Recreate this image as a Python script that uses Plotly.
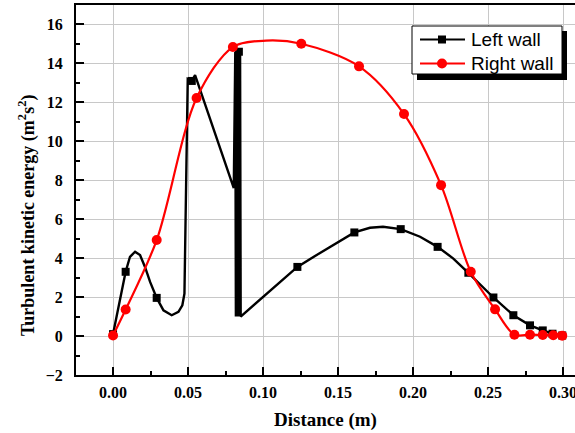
import plotly.graph_objects as go

# ---------------- data ----------------
# Left wall: curve points and which of them carry a marker
left_x = [0.0, 0.0084, 0.0113, 0.0147, 0.018, 0.0213, 0.0247, 0.0291, 0.0336, 0.0391,
          0.0436, 0.0462, 0.0476, 0.0498, 0.0525, 0.0547, 0.0805,
          0.0815, 0.0819, 0.0823, 0.0827, 0.0831, 0.0835, 0.0839, 0.0843, 0.0847, 0.0851,
          0.1229, 0.138, 0.1609, 0.1713, 0.180, 0.1918, 0.2047, 0.2164, 0.2269, 0.2369,
          0.2453, 0.2536, 0.2669, 0.278, 0.2865, 0.293, 0.2995]
left_y = [0.1, 3.3, 4.07, 4.33, 4.16, 3.55, 2.78, 1.96, 1.32, 1.07,
          1.24, 1.58, 2.18, 13.2, 13.1, 13.4, 7.6,
          14.6, 1.0, 14.6, 1.0, 14.6, 1.0, 14.6, 1.0, 14.6, 1.0,
          3.55, 4.27, 5.32, 5.56, 5.61, 5.49, 5.1, 4.58, 3.98, 3.25,
          2.6, 1.98, 1.07, 0.55, 0.29, 0.12, 0.03]
left_marked = [0, 1, 7, 14, 23, 27, 29, 32, 34, 36, 38, 39, 40, 41, 42, 43]

# Right wall: curve points and which carry a marker
right_x = [0.0, 0.0084, 0.0291, 0.0557, 0.0799, 0.102, 0.1255, 0.164, 0.194, 0.2187,
           0.2385, 0.2547, 0.2676, 0.278, 0.2865, 0.2935, 0.2995]
right_y = [0.03, 1.36, 4.93, 12.22, 14.84, 15.17, 15.01, 13.85, 11.4, 7.75,
           3.3, 1.37, 0.07, 0.07, 0.05, 0.04, 0.02]
right_marked = [0, 1, 2, 3, 4, 6, 7, 8, 9, 10, 11, 12, 13, 14, 15, 16]

series_names = ["Left wall", "Right wall"]
series_colors = ["black", "red"]
x_ticks = [0.00, 0.05, 0.10, 0.15, 0.20, 0.25, 0.30]
y_ticks = [-2, 0, 2, 4, 6, 8, 10, 12, 14, 16]

# ---------------- figure ----------------
W, H = 575, 433
ML, MR, MT, MB = 76, 0, 5, 58

serif = "Liberation Serif, Times New Roman, serif"
sans = "Liberation Sans, Arial, sans-serif"

fig = go.Figure()

fig.add_trace(go.Scatter(x=left_x, y=left_y, mode="lines", name=series_names[0],
                         line=dict(color=series_colors[0], width=2.4), showlegend=False))
fig.add_trace(go.Scatter(x=[left_x[i] for i in left_marked],
                         y=[left_y[i] for i in left_marked], mode="markers",
                         name=series_names[0],
                         marker=dict(symbol="square", size=8, color=series_colors[0]),
                         showlegend=False))
fig.add_trace(go.Scatter(x=right_x, y=right_y, mode="lines", name=series_names[1],
                         line=dict(color=series_colors[1], width=2.2, shape="spline",
                                   smoothing=0.9),
                         showlegend=False))
fig.add_trace(go.Scatter(x=[right_x[i] for i in right_marked],
                         y=[right_y[i] for i in right_marked], mode="markers",
                         name=series_names[1],
                         marker=dict(symbol="circle", size=10, color=series_colors[1]),
                         showlegend=False))

pw = W - ML - MR
ph = H - MT - MB


def px_x(p):
    return (p - ML) / pw


def px_y(p):
    return 1 - (p - MT) / ph


# ---- hand-drawn legend with drop shadow (as in the original) ----
fig.add_shape(type="rect", xref="paper", yref="paper",
              x0=px_x(417), x1=px_x(567), y0=px_y(80), y1=px_y(31),
              fillcolor="black", line=dict(width=0), layer="above")
fig.add_shape(type="rect", xref="paper", yref="paper",
              x0=px_x(412), x1=px_x(562), y0=px_y(74), y1=px_y(26),
              fillcolor="white", line=dict(color="black", width=1), layer="above")
row_y = [39.5, 63.5]
for k in range(2):
    yy = px_y(row_y[k])
    fig.add_shape(type="line", xref="paper", yref="paper",
                  x0=px_x(420), x1=px_x(465), y0=yy, y1=yy,
                  line=dict(color=series_colors[k], width=2), layer="above")
    if k == 0:
        fig.add_shape(type="rect", xref="paper", yref="paper",
                      x0=px_x(438), x1=px_x(446), y0=px_y(row_y[k] + 4),
                      y1=px_y(row_y[k] - 4),
                      fillcolor=series_colors[k], line=dict(width=0), layer="above")
    else:
        fig.add_shape(type="circle", xref="paper", yref="paper",
                      x0=px_x(437), x1=px_x(447), y0=px_y(row_y[k] + 5),
                      y1=px_y(row_y[k] - 5),
                      fillcolor=series_colors[k], line=dict(width=0), layer="above")
    fig.add_annotation(x=px_x(469), y=yy, xref="paper", yref="paper",
                       xanchor="left", yanchor="middle", showarrow=False,
                       text=series_names[k],
                       font=dict(family=sans, size=19, color="black"))

# y-axis title placed like the original (slightly below the axis centre)
fig.add_annotation(x=px_x(27), y=px_y(216), xref="paper", yref="paper",
                   xanchor="center", yanchor="middle", showarrow=False, textangle=-90,
                   text="Turbulent kinetic energy (m<sup>2</sup>s<sup>2</sup>)",
                   font=dict(family=serif, size=18, color="black", weight="bold"))
# x-axis title
fig.add_annotation(x=px_x(325), y=px_y(420), xref="paper", yref="paper",
                   xanchor="center", yanchor="middle", showarrow=False,
                   text="Distance (m)",
                   font=dict(family=serif, size=19, color="black", weight="bold"))

grid = "#c8c8c8"
fig.update_layout(
    width=W, height=H,
    margin=dict(l=ML, r=MR, t=MT, b=MB, autoexpand=False),
    plot_bgcolor="white", paper_bgcolor="white",
    showlegend=False,
    xaxis=dict(range=[-0.0247, 0.308], tickvals=x_ticks, tickformat=".2f",
               showgrid=True, gridcolor=grid, gridwidth=1, zeroline=False,
               showline=True, linecolor="black", linewidth=2, mirror=True,
               ticks="inside", ticklen=8, tickwidth=2, tickcolor="black",
               minor=dict(ticks="inside", ticklen=4, tickwidth=1.5, dtick=0.025,
                          tick0=0, tickcolor="black", showgrid=False),
               tickfont=dict(family=serif, size=16, color="black", weight="bold"),
               ticklabelstandoff=2, ticklabeloverflow="allow",
               automargin=False),
    yaxis=dict(range=[-2, 17], tickvals=y_ticks,
               showgrid=True, gridcolor=grid, gridwidth=1, zeroline=False,
               showline=True, linecolor="black", linewidth=2, mirror=False,
               ticks="inside", ticklen=8, tickwidth=2, tickcolor="black",
               minor=dict(ticks="inside", ticklen=4, tickwidth=1.5, dtick=1,
                          tick0=0, tickcolor="black", showgrid=False),
               tickfont=dict(family=serif, size=16, color="black", weight="bold"),
               ticklabelstandoff=8, ticklabeloverflow="allow",
               automargin=False),
)

fig.write_html("out.html")
